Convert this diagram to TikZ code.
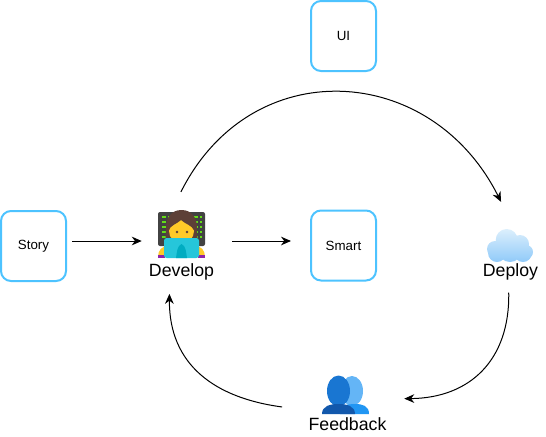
\documentclass[tikz,border=0pt]{standalone}
\usepackage{fontspec}
\setmainfont{Liberation Sans}
\usetikzlibrary{arrows.meta}
\definecolor{boxblue}{HTML}{4DC3FF}
\definecolor{screen}{HTML}{424242}
\definecolor{code}{HTML}{64DD17}
\definecolor{skin}{HTML}{FFCA28}
\definecolor{hair}{HTML}{5D4037}
\definecolor{sleeve}{HTML}{8E24AA}
\definecolor{laptop}{HTML}{26C6DA}
\definecolor{laptopdark}{HTML}{00ACC1}
\definecolor{cloudtop}{HTML}{DCEFFC}
\definecolor{cloudbottom}{HTML}{90CAF9}
\definecolor{backhead}{HTML}{64B5F6}
\definecolor{backbody}{HTML}{2196F3}
\definecolor{fronthead}{HTML}{1976D2}
\definecolor{frontbody}{HTML}{1258AC}
\tikzset{
        card/.style={draw=boxblue, line width=1.5pt, rounded corners=7.5pt, minimum width=48.75pt, minimum height=52.5pt, font=\fontsize{10}{12}\selectfont},
        caption/.style={font=\fontsize{13.3}{16}\selectfont, inner sep=0pt},
        icon/.style={minimum width=37.5pt, minimum height=37.5pt, inner sep=0pt},
        link/.style={-{Stealth[length=7.5pt, width=6.5pt]}, line width=0.75pt},
}
\begin{document}
\begin{tikzpicture}[x=0.75pt, y=-0.75pt]
        \useasboundingbox (0, 0) rectangle (546, 436);

        \node[card] (ui) at (343.5, 36) {UI};
        \node[card] (story) at (33.5, 246) {Story};
        \node[card] (smart) at (343.5, 245.5) {Smart};
        \node[icon] (develop) at (181, 241) {};
        \node[icon] (deploy) at (510, 245) {};
        \node[icon] (feedback) at (345, 395) {};
        \node[caption] (developtext) at (181.5, 272) {Develop};
        \node[caption] (deploytext) at (510.5, 272) {Deploy};
        \node[caption] (feedbacktext) at (347.5, 424.5) {Feedback};

        % woman at the screen
        \fill[screen, rounded corners=1.5pt] (158, 212) rectangle (205, 246);
        \foreach \y in {217, 222, 227, 232, 237} {
                \draw[code, line width=1.2pt, dash pattern=on 3pt off 1.5pt] (162, \y) -- (170, \y);
                \draw[code, line width=1.2pt, dash pattern=on 3pt off 1.5pt] (194, \y) -- (202, \y);
        }
        \fill[skin] (158, 257) .. controls (158, 250) and (162, 246) .. (168, 246) -- (195, 246) .. controls (201, 246) and (205, 250) .. (205, 257) -- cycle;
        \fill[sleeve] (158, 255) rectangle (165, 258);
        \fill[sleeve] (198, 255) rectangle (205, 258);
        \fill[hair] (181.5, 210) .. controls (171, 210) and (166, 218) .. (166, 228) .. controls (166, 234) and (165, 238) .. (166, 243) -- (197, 243) .. controls (198, 238) and (197, 234) .. (197, 228) .. controls (197, 218) and (192, 210) .. (181.5, 210) -- cycle;
        \fill[skin] (181.5, 231) circle [radius=12.5];
        \fill[hair] (168.5, 231) .. controls (170, 225) and (177, 224) .. (181, 220) .. controls (185, 224) and (192, 225) .. (194.5, 231) .. controls (195, 219) and (189, 215) .. (181.5, 215) .. controls (174, 215) and (168, 220) .. (168.5, 231) -- cycle;
        \fill[hair] (177, 232) circle [radius=1.3];
        \fill[hair] (187, 232) circle [radius=1.3];
        \fill[laptop, rounded corners=2pt] (164, 258) -- (164, 238) -- (199, 238) -- (199, 258) -- cycle;
        \fill[laptopdark] (176, 258) .. controls (177, 252) and (177, 246) .. (181.5, 244) .. controls (186, 246) and (186, 252) .. (187, 258) -- cycle;

        % cloud
        \shade[top color=cloudtop, bottom color=cloudbottom]
                (506.7, 240) circle [radius=11]
                (520, 244) circle [radius=9]
                (526, 252) circle [radius=7]
                (495, 249) circle [radius=8]
                (497, 253) circle [radius=9]
                (510, 250) circle [radius=12]
                (523, 253) circle [radius=9];

        % two people
        \fill[backhead] (352, 391) ellipse [x radius=11, y radius=15];
        \fill[backbody] (340, 414) .. controls (340, 406) and (347, 404) .. (355, 404) .. controls (363, 404) and (369, 406) .. (369, 414) -- cycle;
        \fill[fronthead] (338.5, 391) ellipse [x radius=11.5, y radius=15.5];
        \fill[frontbody] (322, 414) .. controls (322, 406) and (330, 404) .. (338.5, 404) .. controls (347, 404) and (355, 406) .. (355, 414) -- cycle;

        \draw[link, shorten <=4pt, shorten >=10.5pt] (story.east |- develop) -- (develop.west);
        \draw[link, shorten <=19.5pt, shorten >=14.25pt] (develop.east) -- (smart.west |- develop);
        \draw[link, shorten <=20pt, shorten >=15pt] ([xshift=-9pt]develop.north) .. controls (251, 52) and (431, 62) .. (deploy.north);
        \draw[link, shorten <=9pt, shorten >=25.5pt] ([xshift=-1.5pt]deploytext.south) .. controls (510, 360) and (470, 398) .. ([yshift=-3pt]feedback.east);
        \draw[link, shorten <=28.5pt, shorten >=10pt] ([yshift=-12.75pt]feedback.west) .. controls (215, 398) and (169, 365) .. ([xshift=-9pt]developtext.south);
\end{tikzpicture}
\end{document}
